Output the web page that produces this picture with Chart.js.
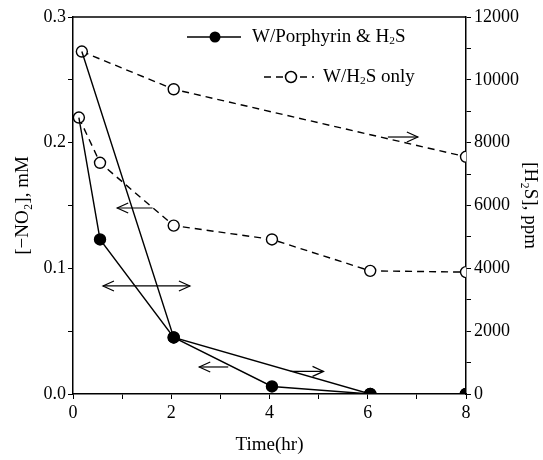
<!DOCTYPE html>
<html>
<head>
<meta charset="utf-8">
<script src="https://cdn.jsdelivr.net/npm/chart.js@4.4.1/dist/chart.umd.min.js"></script>
<style>
  html, body { margin: 0; padding: 0; background: #fff; }
  #wrap { width: 543px; height: 460px; }
</style>
</head>
<body>
<div id="wrap"><canvas id="grafico"></canvas></div>
<script>
// dados
const tempoNO2 = [0.12, 0.55, 2.05, 4.05, 6.05, 8];
const no2Porfirina = [0.22, 0.123, 0.045, 0.006, 0, 0];
const no2SoH2S = [0.22, 0.184, 0.134, 0.123, 0.098, 0.097];

const tempoH2SPorfirina = [0.18, 2.05, 6.05, 8];
const h2sPorfirina = [10900, 1800, 0, 0];
const tempoH2SSo = [0.18, 2.05, 8];
const h2sSo = [10900, 9700, 7550];

// setas indicando o eixo (x inicial, x final, valor no eixo esquerdo, pontas)
const setas = [
  { x1: 0.9, x2: 1.62, y: 0.148, esq: true, dir: false },
  { x1: 0.61, x2: 2.38, y: 0.086, esq: true, dir: true },
  { x1: 2.57, x2: 3.16, y: 0.0215, esq: true, dir: false },
  { x1: 4.43, x2: 5.1, y: 0.018, esq: false, dir: true },
  { x1: 6.41, x2: 7.02, y: 0.2045, esq: false, dir: true }
];

const FONTE = "'Liberation Serif', 'DejaVu Serif', serif";
const pts = (xs, ys) => xs.map((x, i) => ({ x: x, y: ys[i] }));

function textoSub(ctx, partes, x, y, tam) {
  // partes: [texto, ehSubscrito]
  let cx = x;
  partes.forEach(([t, sub]) => {
    ctx.font = (sub ? tam * 0.6 : tam) + 'px ' + FONTE;
    ctx.fillText(t, cx, sub ? y + tam * 0.22 : y);
    cx += ctx.measureText(t).width;
  });
}

function ponta(ctx, x, y, sentido) {
  ctx.beginPath();
  ctx.moveTo(x + sentido * 11, y - 5);
  ctx.lineTo(x, y);
  ctx.lineTo(x + sentido * 11, y + 5);
  ctx.stroke();
}

const extras = {
  id: 'extras',
  afterDatasetsDraw(chart) {
    const { ctx, chartArea: a, scales } = chart;
    ctx.save();
    ctx.strokeStyle = '#000';
    ctx.fillStyle = '#000';
    ctx.lineWidth = 1.5;
    // borda superior
    ctx.beginPath();
    ctx.moveTo(a.left, a.top);
    ctx.lineTo(a.right, a.top);
    ctx.stroke();

    // setas
    ctx.lineWidth = 1.2;
    setas.forEach(s => {
      const x1 = scales.x.getPixelForValue(s.x1);
      const x2 = scales.x.getPixelForValue(s.x2);
      const y = scales.y.getPixelForValue(s.y);
      ctx.beginPath();
      ctx.moveTo(x1, y);
      ctx.lineTo(x2, y);
      ctx.stroke();
      if (s.esq) ponta(ctx, x1, y, 1);
      if (s.dir) ponta(ctx, x2, y, -1);
    });

    // legenda
    ctx.lineWidth = 1.5;
    ctx.beginPath();
    ctx.moveTo(187, 37);
    ctx.lineTo(241, 37);
    ctx.stroke();
    ctx.beginPath();
    ctx.arc(215, 37, 5.5, 0, Math.PI * 2);
    ctx.fill();

    ctx.setLineDash([7, 5]);
    ctx.beginPath();
    ctx.moveTo(264, 77);
    ctx.lineTo(314, 77);
    ctx.stroke();
    ctx.setLineDash([]);
    ctx.beginPath();
    ctx.arc(291, 77, 5.5, 0, Math.PI * 2);
    ctx.fillStyle = '#fff';
    ctx.fill();
    ctx.stroke();

    ctx.fillStyle = '#000';
    ctx.textBaseline = 'middle';
    textoSub(ctx, [['W/Porphyrin & H', false], ['2', true], ['S', false]], 252, 37, 19);
    textoSub(ctx, [['W/H', false], ['2', true], ['S only', false]], 323, 77, 19);
    ctx.restore();
  }
};

const linhaCheia = { borderColor: '#000', borderWidth: 1.4, pointBorderColor: '#000', pointBorderWidth: 1.4, pointBackgroundColor: '#000', fill: false, tension: 0,
  pointRadius: ctx => ctx.dataIndex === 0 ? 0 : 5.5 };
const linhaTracejada = { borderColor: '#000', borderWidth: 1.4, borderDash: [7, 5], pointBorderColor: '#000', pointBorderWidth: 1.4, pointRadius: 5.5, pointBackgroundColor: '#fff', fill: false, tension: 0 };

new Chart(document.getElementById('grafico'), {
  type: 'line',
  data: {
    datasets: [
      Object.assign({ label: 'W/Porphyrin & H2S [NO2]', data: pts(tempoNO2, no2Porfirina), yAxisID: 'y' }, linhaCheia),
      Object.assign({ label: 'W/Porphyrin & H2S [H2S]', data: pts(tempoH2SPorfirina, h2sPorfirina), yAxisID: 'y2' }, linhaCheia),
      Object.assign({ label: 'W/H2S only [NO2]', data: pts(tempoNO2, no2SoH2S), yAxisID: 'y' }, linhaTracejada),
      Object.assign({ label: 'W/H2S only [H2S]', data: pts(tempoH2SSo, h2sSo), yAxisID: 'y2' }, linhaTracejada)
    ]
  },
  options: {
    responsive: true,
    maintainAspectRatio: false,
    animation: false,
    layout: { padding: { top: 17, right: 0, left: 0, bottom: 0 } },
    plugins: { legend: { display: false }, tooltip: { enabled: false } },
    scales: {
      x: {
        type: 'linear', min: 0, max: 8,
        ticks: { stepSize: 1, color: '#000', font: { family: FONTE, size: 18 }, padding: 3,
          callback: v => v % 2 === 0 ? String(v) : '' },
        grid: { drawOnChartArea: false, drawTicks: true, tickLength: 5, color: '#000' },
        border: { color: '#000', width: 1.5 },
        title: { display: true, text: 'Time(hr)', color: '#000', font: { family: FONTE, size: 19 }, padding: { top: 1 } },
        afterFit: s => { s.height = 66; }
      },
      y: {
        position: 'left', min: 0, max: 0.3,
        ticks: { stepSize: 0.05, color: '#000', font: { family: FONTE, size: 18 }, padding: 2,
          callback: v => Math.round(v * 100) % 10 === 0 ? v.toFixed(1) : '' },
        grid: { drawOnChartArea: false, drawTicks: true, tickLength: 5, color: '#000' },
        border: { color: '#000', width: 1.5 },
        title: { display: true, text: '[−NO₂], mM', color: '#000', font: { family: FONTE, size: 19 }, padding: { top: 12 } },
        afterFit: s => { s.width = 73; }
      },
      y2: {
        position: 'right', min: 0, max: 12000,
        ticks: { stepSize: 1000, color: '#000', font: { family: FONTE, size: 18 }, padding: 3,
          callback: v => v % 2000 === 0 ? String(v) : '' },
        grid: { drawOnChartArea: false, drawTicks: true, tickLength: 5, color: '#000' },
        border: { color: '#000', width: 1.5 },
        title: { display: true, text: '[H₂S], ppm', color: '#000', font: { family: FONTE, size: 19 }, padding: { top: 2 } },
        afterFit: s => { s.width = 77; }
      }
    }
  },
  plugins: [extras]
});
</script>
</body>
</html>
